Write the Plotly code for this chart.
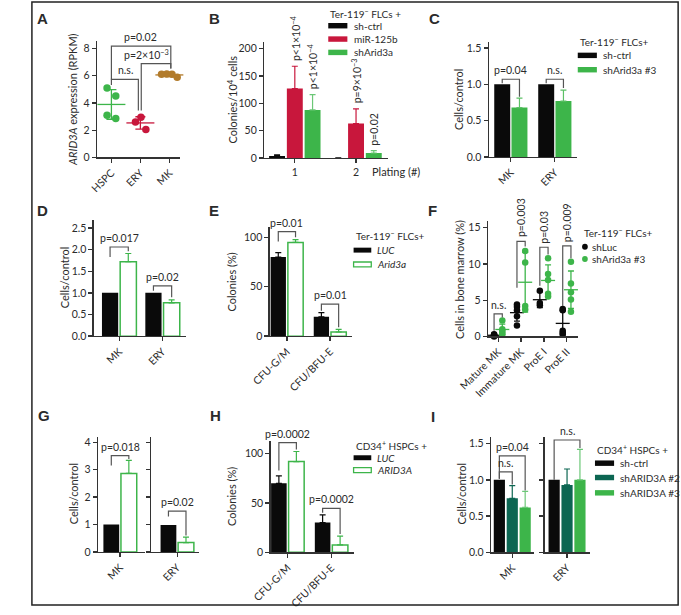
import numpy as np
import plotly.graph_objects as go

W, H = 681, 615

# ------------------------------------------------------------------ data
a_categories = ["HSPC", "ERY", "MK"]
a_hspc = [5.1, 4.5, 3.1, 2.85]
a_ery = [2.6, 2.95, 2.05]
a_mk = [6.1, 6.12, 6.1, 5.88]

b_platings = ["1", "2"]
b_series = ["sh-ctrl", "miR-125b", "shArid3a"]
b_sh_ctrl = [3.5, 0]
b_sh_ctrl_err = [2.2, 0]
b_mir125b = [127, 63]
b_mir125b_err = [41, 27]
b_sharid3a = [88, 9]
b_sharid3a_err = [28, 4.5]
b_pvalues = ["p<1×10<sup>−4</sup>", "p<1×10<sup>−4</sup>", "p=9×10<sup>−3</sup>", "p=0.02"]

c_categories = ["MK", "ERY"]
c_series = ["sh-ctrl", "shArid3a #3"]
c_sh_ctrl = [1.0, 1.0]
c_sharid3a = [0.68, 0.77]
c_sharid3a_err = [0.13, 0.15]

d_categories = ["MK", "ERY"]
d_luc = [1.0, 1.0]
d_arid3a = [1.72, 0.77]
d_arid3a_err = [0.19, 0.07]

e_categories = ["CFU-G/M", "CFU/BFU-E"]
e_series = ["LUC", "Arid3a"]
e_luc = [80, 19.5]
e_luc_err = [4.5, 4.3]
e_arid3a = [94.8, 4.2]
e_arid3a_err = [2.8, 2.7]

f_categories = ["Mature MK", "Immature MK", "ProE I", "ProE II"]
f_series = ["shLuc", "shArid3a #3"]
f_shluc = [[0.1, 0.25, 0.3, 0.0, 0.15],
           [4.4, 4.1, 3.6, 2.8, 1.5],
           [6.3, 4.3, 4.6],
           [3.8, 3.6, 0.8, 0.5, 0.3]]
f_sharid3a = [[2.2, 1.0, 0.8, 0.5, 0.3],
              [11.8, 10.2, 4.2, 3.7],
              [10.8, 8.6, 7.8, 5.9, 5.5],
              [10.3, 7.3, 6.1, 5.1, 3.4]]

g_categories = ["MK", "ERY"]
g_luc = [1.0, 0.98]
g_arid3a = [2.86, 0.34]
g_arid3a_err = [0.48, 0.2]

h_categories = ["CFU-G/M", "CFU/BFU-E"]
h_series = ["LUC", "ARID3A"]
h_luc = [69.8, 30.2]
h_luc_err = [7.5, 7.8]
h_arid3a = [91.8, 7.5]
h_arid3a_err = [10.2, 9.0]

i_categories = ["MK", "ERY"]
i_series = ["sh-ctrl", "shARID3A #2", "shARID3A #3"]
i_sh_ctrl = [1.0, 1.0]
i_sharid3a_2 = [0.745, 0.93]
i_sharid3a_2_err = [0.175, 0.22]
i_sharid3a_3 = [0.62, 1.0]
i_sharid3a_3_err = [0.22, 0.42]

# ------------------------------------------------------------------ style
FONT = "Lato"
TXT = "#2b2b2b"
AXC = "#333333"
BRK = "#555555"
BLACK = "#0a0a0a"
GREEN = "#3db54a"
RED = "#c8173c"
BROWN = "#b27b2b"
DKGREEN = "#0c6652"
TS = 10.5  # tick / annotation text size
LS = 10    # legend text size


def PX(x):
    return x / W


def PY(y):
    return 1 - y / H


# pixel boxes (x0, x1, ytop, ybottom), axis ranges and ticks
PANELS = {
    "A": dict(box=(70, 157, 40, 158.3), xr=(-0.5, 2.37), yr=(0, 8.57),
              xt=[0, 1, 2], xl=a_categories, ang=-45, yt=[0, 2, 4, 6, 8], fmt=""),
    "B": dict(box=(245, 375, 41.7, 158.7), xr=(0.5, 2.53), yr=(0, 212),
              xt=[1, 2], xl=b_platings, ang=0, yt=[0, 50, 100, 150, 200], fmt=""),
    "C": dict(box=(480, 572.7, 41, 157.7), xr=(-0.5, 1.515), yr=(0, 1.59),
              xt=[0, 1], xl=c_categories, ang=-45, yt=[0, 0.5, 1, 1.5], fmt=".1f"),
    "D": dict(box=(66.7, 162.7, 221.7, 339), xr=(-0.586, 1.53), yr=(0, 2.68),
              xt=[0, 1], xl=d_categories, ang=-45, yt=[0, 0.5, 1, 1.5, 2, 2.5], fmt=".1f"),
    "E": dict(box=(250.7, 337.3, 228.3, 339), xr=(-0.4, 1.52), yr=(0, 110.7),
              xt=[0, 1], xl=e_categories, ang=-45, yt=[0, 50, 100], fmt=""),
    "F": dict(box=(479, 573.3, 222.7, 339.3), xr=(-0.45, 3.49), yr=(0, 15.9),
              xt=[0, 1, 2, 3], xl=f_categories, ang=-45, yt=[0, 5, 10, 15], fmt=""),
    "G1": dict(box=(71, 120, 440.7, 557.3), xr=(-0.516, 0.573), yr=(0, 4.2),
               xt=[0], xl=g_categories[:1], ang=-45, yt=[0, 1, 2, 3, 4], fmt=""),
    "G2": dict(box=(126.7, 177.3, 440.7, 557.3), xr=(-0.607, 0.518), yr=(0, 4.2),
               xt=[0], xl=g_categories[1:], ang=-45, yt=[0, 1, 2, 3, 4], fmt="", nolab=True),
    "H": dict(box=(251.7, 339, 445, 557.7), xr=(-0.389, 1.519), yr=(0, 112.7),
              xt=[0, 1], xl=h_categories, ang=-45, yt=[0, 50, 100], fmt=""),
    "I1": dict(box=(482.3, 527.3, 440.7, 557.7), xr=(-0.493, 0.507), yr=(0, 1.596),
               xt=[0], xl=i_categories[:1], ang=-45, yt=[0, 0.5, 1, 1.5], fmt=".1f"),
    "I2": dict(box=(538.3, 586, 440.7, 557.7), xr=(-0.522, 0.538), yr=(0, 1.596),
               xt=[0], xl=i_categories[1:], ang=-45, yt=[0, 0.5, 1, 1.5], fmt=".1f", nolab=True),
}
ORDER = ["A", "B", "C", "D", "E", "F", "G1", "G2", "H", "I1", "I2"]

AXIS = dict(showline=True, linecolor=AXC, linewidth=1.3, ticks="outside", ticklen=4,
            tickwidth=1.3, tickcolor=AXC, showgrid=False, zeroline=False, fixedrange=True,
            tickfont=dict(size=TS, color=TXT, family=FONT))

fig = go.Figure()
REF = {}
lay = {}
for i, key in enumerate(ORDER, start=1):
    p = PANELS[key]
    x0, x1, yt, yb = p["box"]
    sfx = "" if i == 1 else str(i)
    REF[key] = ("x" + sfx, "y" + sfx)
    lay["xaxis" + sfx] = dict(AXIS, domain=[PX(x0), PX(x1)], range=list(p["xr"]),
                              anchor="y" + sfx, tickmode="array", tickvals=p["xt"],
                              ticktext=p["xl"], tickangle=p["ang"])
    lay["yaxis" + sfx] = dict(AXIS, domain=[PY(yb), PY(yt)], range=list(p["yr"]),
                              anchor="x" + sfx, tickmode="array", tickvals=p["yt"],
                              tickformat=p["fmt"], showticklabels=not p.get("nolab", False))


def add_bars(key, xs, vals, errs, color, width, outline=False, errcolor=None):
    xr, yr = REF[key]
    fill = "white" if outline else color
    fig.add_trace(go.Bar(
        x=xs, y=vals, width=width, xaxis=xr, yaxis=yr, showlegend=False,
        marker=dict(color=fill, line=dict(color=color, width=1.5 if outline else 0)),
        error_y=None if errs is None else dict(type="data", array=errs, arrayminus=[0] * len(errs),
                                               symmetric=False, color=errcolor or color,
                                               thickness=1.2, width=3),
        cliponaxis=False))


def add_points(key, xs, vals, color, size):
    xr, yr = REF[key]
    fig.add_trace(go.Scatter(x=xs, y=vals, mode="markers", xaxis=xr, yaxis=yr,
                             showlegend=False, cliponaxis=False,
                             marker=dict(size=size, color=color, line=dict(width=0))))


def add_mean_sd(key, x, vals, color, mean_len, cap):
    xr, yr = REF[key]
    m = float(np.mean(vals))
    sd = float(np.std(vals, ddof=1))
    fig.add_trace(go.Scatter(x=[x], y=[m], mode="markers", xaxis=xr, yaxis=yr,
                             showlegend=False, cliponaxis=False,
                             marker=dict(symbol="line-ew", size=mean_len, color=color,
                                         line=dict(width=1.3, color=color)),
                             error_y=dict(type="data", array=[sd], color=color,
                                          thickness=1.3, width=cap)))


SHAPES = []
ANN = []


def bracket(key, x1, x2, ytop, yl, yr_):
    xr, yr = REF[key]
    SHAPES.append(dict(type="path", xref=xr, yref=yr,
                       path=f"M {x1},{yl} L {x1},{ytop} L {x2},{ytop} L {x2},{yr_}",
                       line=dict(color=BRK, width=1.2)))


def ptext(key, x, y, text, angle=0, shift=1):
    xr, yr = REF[key]
    ANN.append(dict(xref=xr, yref=yr, x=x, y=y, text=text, showarrow=False,
                    textangle=angle, xanchor="center", yanchor="bottom", yshift=shift,
                    font=dict(size=TS, color=TXT, family=FONT)))


def ptxt(x, y, text, size=TS, angle=0, xanchor="center", yanchor="middle", family=FONT):
    ANN.append(dict(xref="paper", yref="paper", x=PX(x), y=PY(y), text=text, showarrow=False,
                    textangle=angle, xanchor=xanchor, yanchor=yanchor,
                    font=dict(size=size, color=TXT, family=family)))


def swatch(x0, x1, yc, color, h=5.5, outline=False):
    SHAPES.append(dict(type="rect", xref="paper", yref="paper",
                       x0=PX(x0), x1=PX(x1), y0=PY(yc + h / 2), y1=PY(yc - h / 2),
                       fillcolor="white" if outline else color,
                       line=dict(color=color, width=1.3 if outline else 0)))


def dot(xc, yc, color, r=3):
    SHAPES.append(dict(type="circle", xref="paper", yref="paper",
                       x0=PX(xc - r), x1=PX(xc + r), y0=PY(yc + r), y1=PY(yc - r),
                       fillcolor=color, line=dict(width=0)))


# ------------------------------------------------------------------ A
a_jitter = [[-0.15, 0.15, -0.15, 0.15], [-0.17, 0.02, 0.19], [-0.27, -0.09, 0.09, 0.27]]
for idx, (vals, col) in enumerate(zip([a_hspc, a_ery, a_mk], [GREEN, RED, BROWN])):
    add_mean_sd("A", idx, vals, col, 20, 5)
    add_points("A", [idx + j for j in a_jitter[idx]], vals, col, 7.5)
bracket("A", 0, 2.05, 8.16, 5.72, 6.52)
bracket("A", 1.03, 2.05, 6.88, 3.45, 6.52)
bracket("A", 0, 0.93, 5.72, 5.31, 3.45)
ptext("A", 1.0, 8.16, "p=0.02")
ptext("A", 1.2, 6.88, "p=2×10<sup>−3</sup>")
ptext("A", 0.47, 5.72, "n.s.")

# ------------------------------------------------------------------ B
bw, bo = 0.26, 0.29
bx = [1, 2]
add_bars("B", [x - bo for x in bx], b_sh_ctrl, b_sh_ctrl_err, BLACK, bw)
add_bars("B", bx, b_mir125b, b_mir125b_err, RED, bw)
add_bars("B", [x + bo for x in bx], b_sharid3a, b_sharid3a_err, GREEN, bw, errcolor="#6cc777")
b_tops = [(1, b_mir125b[0] + b_mir125b_err[0]), (1 + bo, b_sharid3a[0] + b_sharid3a_err[0]),
          (2, b_mir125b[1] + b_mir125b_err[1]), (2 + bo, b_sharid3a[1] + b_sharid3a_err[1])]
for (x, y), t in zip(b_tops, b_pvalues):
    ptext("B", x, y, t, angle=-90, shift=3)

# ------------------------------------------------------------------ C
cw, co = 0.363, 0.196
add_bars("C", [i - co for i in range(2)], c_sh_ctrl, None, BLACK, cw)
add_bars("C", [i + co for i in range(2)], c_sharid3a, c_sharid3a_err, GREEN, cw, errcolor="#5cc066")
bracket("C", -co, co, 1.07, 1.015, 0.83)
bracket("C", 1 - co, 1 + co, 1.07, 1.015, 0.95)
ptext("C", 0, 1.07, "p=0.04")
ptext("C", 1, 1.07, "n.s.")

# ------------------------------------------------------------------ D
dw, do = 0.374, 0.21
add_bars("D", [i - do for i in range(2)], d_luc, None, BLACK, dw)
add_bars("D", [i + do for i in range(2)], d_arid3a, d_arid3a_err, GREEN, dw, outline=True)
bracket("D", -do, do, 2.06, 1.83, 1.96)
bracket("D", 1 - do, 1 + do, 1.16, 1.05, 0.9)
ptext("D", 0, 2.06, "p=0.017")
ptext("D", 1, 1.16, "p=0.02")

# ------------------------------------------------------------------ E
ew, eo = 0.355, 0.2
add_bars("E", [i - eo for i in range(2)], e_luc, e_luc_err, BLACK, ew)
add_bars("E", [i + eo for i in range(2)], e_arid3a, e_arid3a_err, GREEN, ew, outline=True)
bracket("E", -eo, eo, 105.7, 95.7, 100)
bracket("E", 1 - eo, 1 + eo, 32.3, 25.7, 9)
ptext("E", 0, 105.7, "p=0.01")
ptext("E", 1, 32.3, "p=0.01")

# ------------------------------------------------------------------ F
fo = 0.18
for idx in range(4):
    for vals, col, sgn in [(f_shluc[idx], BLACK, -1), (f_sharid3a[idx], GREEN, 1)]:
        add_mean_sd("F", idx + sgn * fo, vals, col, 10, 3)
        add_points("F", [idx + sgn * fo] * len(vals), vals, col, 6.5)
bracket("F", -fo, fo, 3.1, 0.8, 2.6)
bracket("F", 1 - fo, 1 + fo, 13.1, 6.7, 12.4)
bracket("F", 2 - fo, 2 + fo, 12.3, 7.0, 11.3)
bracket("F", 3 - fo, 3 + fo, 12.5, 4.2, 10.8)
ptext("F", 0, 3.1, "n.s.")
ptext("F", 1, 13.1, "p=0.003", angle=-90, shift=2)
ptext("F", 2, 12.3, "p=0.03", angle=-90, shift=2)
ptext("F", 3, 12.5, "p=0.009", angle=-90, shift=2)

# ------------------------------------------------------------------ G
gw, go_ = 0.367, 0.204
for k, key in enumerate(["G1", "G2"]):
    add_bars(key, [-go_], [g_luc[k]], None, BLACK, gw)
    add_bars(key, [go_], [g_arid3a[k]], [g_arid3a_err[k]], GREEN, gw, outline=True)
bracket("G1", -go_, go_, 3.51, 3.15, 3.39)
bracket("G2", -go_, go_, 1.49, 1.29, 0.6)
ptext("G1", 0, 3.51, "p=0.018")
ptext("G2", 0, 1.49, "p=0.02")

# ------------------------------------------------------------------ H
hw, ho = 0.356, 0.2
add_bars("H", [i - ho for i in range(2)], h_luc, h_luc_err, BLACK, hw)
add_bars("H", [i + ho for i in range(2)], h_arid3a, h_arid3a_err, GREEN, hw, outline=True)
bracket("H", -ho, ho, 111, 82.7, 104)
bracket("H", 1 - ho, 1 + ho, 44.4, 40, 18.5)
ptext("H", 0, 111, "p=0.0002")
ptext("H", 1, 44.4, "p=0.0002")

# ------------------------------------------------------------------ I
iw, io = 0.26, 0.3
for k, key in enumerate(["I1", "I2"]):
    add_bars(key, [-io], [i_sh_ctrl[k]], None, BLACK, iw)
    add_bars(key, [0], [i_sharid3a_2[k]], [i_sharid3a_2_err[k]], DKGREEN, iw)
    add_bars(key, [io], [i_sharid3a_3[k]], [i_sharid3a_3_err[k]], GREEN, iw, errcolor="#6cc777")
bracket("I1", -io, io, 1.33, 1.015, 0.855)
bracket("I1", -io, 0, 1.11, 1.015, 0.935)
bracket("I2", -io, io, 1.55, 1.0, 1.44)
ptext("I1", 0, 1.33, "p=0.04")
ptext("I1", -0.15, 1.11, "n.s.")
ptext("I2", 0, 1.55, "n.s.")

# ------------------------------------------------------------------ legends
ptxt(312, 13, "Ter-119<sup>−</sup> FLCs +", size=LS, xanchor="left")
for yc, col, name in zip([25, 38.5, 52], [BLACK, RED, GREEN], b_series):
    swatch(312, 332, yc, col)
    ptxt(337, yc, name, size=LS, xanchor="left")

ptxt(573, 41, "Ter-119<sup>−</sup> FLCs+", size=LS, xanchor="left")
for yc, col, name in zip([55, 69.5], [BLACK, GREEN], c_series):
    swatch(573, 593, yc, col)
    ptxt(597, yc, name, size=LS, xanchor="left")

ptxt(338.5, 237.5, "Ter-119<sup>−</sup> FLCs+", size=LS, xanchor="left")
for yc, col, name, ol in zip([252, 266.5], [BLACK, GREEN], e_series, [False, True]):
    swatch(338.5, 357, yc, col, h=5, outline=ol)
    ptxt(361, yc, f"<i>{name}</i>", size=LS, xanchor="left")

ptxt(577, 234.5, "Ter-119<sup>−</sup> FLCs+", size=LS, xanchor="left")
for yc, col, name in zip([248.5, 261], [BLACK, GREEN], f_series):
    dot(580.5, yc, col)
    ptxt(586, yc, name, size=LS, xanchor="left")

ptxt(338.5, 449.5, "CD34<sup>+</sup> HSPCs +", size=LS, xanchor="left")
for yc, col, name, ol in zip([462, 474.5], [BLACK, GREEN], h_series, [False, True]):
    swatch(338.5, 357, yc, col, h=5, outline=ol)
    ptxt(361, yc, f"<i>{name}</i>", size=LS, xanchor="left")

ptxt(591, 454, "CD34<sup>+</sup> HSPCs +", size=LS, xanchor="left")
for yc, col, name in zip([467.5, 482, 497.5], [BLACK, DKGREEN, GREEN], i_series):
    swatch(591, 611, yc, col)
    ptxt(615, yc, name, size=LS, xanchor="left")

# ------------------------------------------------------------------ axis titles
ptxt(45, 100, "<i>ARID3A</i> expression (RPKM)", size=11, angle=-90)
ptxt(212, 100, "Colonies/10<sup>4</sup> cells", size=11, angle=-90)
ptxt(449, 100, "Cells/control", size=11, angle=-90)
ptxt(36, 280, "Cells/control", size=11, angle=-90)
ptxt(211, 284, "Colonies (%)", size=11, angle=-90)
ptxt(450, 282, "Cells in bone marrow (%)", size=11, angle=-90)
ptxt(45, 499, "Cells/control", size=11, angle=-90)
ptxt(211, 501, "Colonies (%)", size=11, angle=-90)
ptxt(451, 499, "Cells/control", size=11, angle=-90)
ptxt(383, 172, "Plating (#)", size=11)

# ------------------------------------------------------------------ panel letters
for letter, (x, y) in {"A": (13, 18), "B": (193, 18), "C": (423, 18),
                       "D": (13, 212), "E": (192, 212), "F": (421, 212),
                       "G": (15, 419), "H": (194, 419), "I": (422, 420)}.items():
    ptxt(x, y, f"<b>{letter}</b>", size=15, xanchor="center", family="Liberation Sans")

# frame
SHAPES.append(dict(type="rect", xref="paper", yref="paper", x0=PX(2), x1=PX(678),
                   y0=PY(611), y1=PY(1), line=dict(color="#222222", width=1.5)))

fig.update_layout(width=W, height=H, margin=dict(l=0, r=0, t=0, b=0),
                  paper_bgcolor="white", plot_bgcolor="white", barmode="overlay",
                  showlegend=False, shapes=SHAPES, annotations=ANN, hovermode=False,
                  font=dict(family=FONT, color=TXT), **lay)
fig.write_html("out.html", config={"displayModeBar": False, "staticPlot": True},
               post_script="document.documentElement.style.margin='0';"
                           "document.body.style.margin='0';"
                           "document.body.style.overflow='hidden';")
